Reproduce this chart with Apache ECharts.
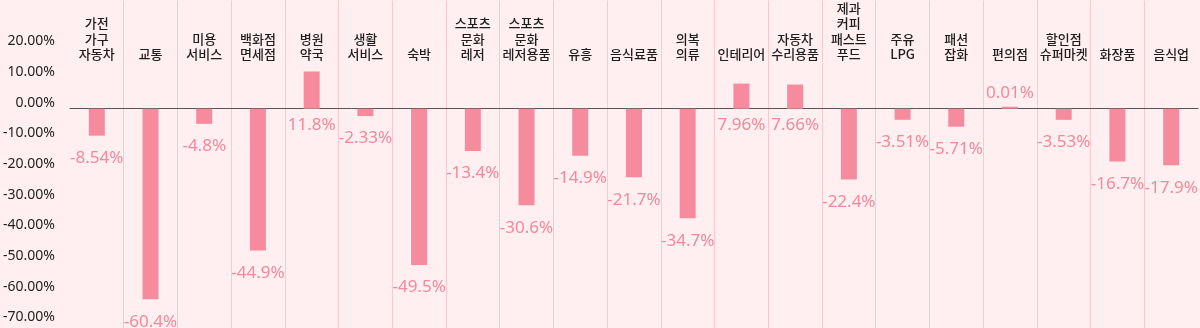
<!DOCTYPE html>
<html>
<head>
<meta charset="utf-8">
<script src="https://cdn.jsdelivr.net/npm/echarts@6/dist/echarts.min.js"></script>
<style>
  html, body { margin: 0; padding: 0; background: #FFEFF1; }
  #chart { width: 1200px; height: 328px; }
</style>
</head>
<body>
<div id="chart"></div>
<script>
// 업종별 증감률 (%)
const categories = [
  '가전\n가구\n자동차', '교통', '미용\n서비스', '백화점\n면세점', '병원\n약국',
  '생활\n서비스', '숙박', '스포츠\n문화\n레저', '스포츠\n문화\n레저용품', '유흥',
  '음식료품', '의복\n의류', '인테리어', '자동차\n수리용품', '제과\n커피\n패스트\n푸드',
  '주유\nLPG', '패션\n잡화', '편의점', '할인점\n슈퍼마켓', '화장품', '음식업'
];
const changeRates = [
  -8.54, -60.4, -4.8, -44.9, 11.8,
  -2.33, -49.5, -13.4, -30.6, -14.9,
  -21.7, -34.7, 7.96, 7.66, -22.4,
  -3.51, -5.71, 0.01, -3.53, -16.7, -17.9
];
const yTickLabels = [20, 10, 0, -10, -20, -30, -40, -50, -60, -70];

const BAR_COLOR = '#F58B9D';
const LABEL_COLOR = '#F4899B';

function labelFor(v) {
  if (v < 0) return { position: 'bottom', distance: 13 };
  if (v < 1) return { position: 'top', distance: 4 };
  // positive values: label sits just under the zero line
  return { position: 'insideBottom', distance: 5, offset: [0, 31] };
}

const chart = echarts.init(document.getElementById('chart'), null, { renderer: 'canvas' });

chart.setOption({
  backgroundColor: '#FFEFF1',
  animation: false,
  grid: { left: 69, right: 2, top: 0, bottom: 0 },
  xAxis: [
    {
      type: 'category',
      data: categories,
      position: 'bottom',
      axisLine: { onZero: true, lineStyle: { color: '#555555', width: 1 } },
      axisTick: { show: false, interval: 0 },
      axisLabel: { show: false, interval: 0 },
      splitLine: {
        show: true,
        interval: 0,
        showMinLine: false,
        showMaxLine: false,
        lineStyle: { color: '#F9C9D0', width: 1 }
      }
    },
    {
      type: 'category',
      data: categories,
      position: 'top',
      axisLine: { show: false },
      axisTick: { show: false },
      splitLine: { show: false },
      axisLabel: {
        inside: true,
        interval: 0,
        margin: 61.5,
        verticalAlign: 'bottom',
        lineHeight: 15.5,
        fontSize: 13,
        fontWeight: 500,
        fontFamily: '"Noto Sans CJK KR", "Noto Sans", sans-serif',
        color: '#1E1E1E'
      }
    }
  ],
  yAxis: [
    {
      type: 'value',
      min: -69.5,
      max: 34.3,
      axisLine: { show: false },
      axisTick: { show: false },
      axisLabel: { show: false },
      splitLine: { show: false }
    },
    {
      // tick label column on the left
      type: 'value',
      position: 'left',
      min: -73.44,
      max: 33.33,
      axisLine: { show: false },
      axisTick: { show: false },
      splitLine: { show: false },
      axisLabel: {
        customValues: yTickLabels,
        margin: 15,
        fontSize: 14,
        fontFamily: '"Noto Sans", sans-serif',
        color: '#222222',
        formatter: v => v.toFixed(2) + '%'
      }
    }
  ],
  series: [
    {
      type: 'bar',
      xAxisIndex: 0,
      yAxisIndex: 0,
      barWidth: 16,
      barMinHeight: 2,
      itemStyle: { color: BAR_COLOR },
      label: {
        show: true,
        color: LABEL_COLOR,
        fontSize: 17,
        lineHeight: 19,
        fontFamily: '"Noto Sans", sans-serif',
        formatter: p => p.value + '%'
      },
      data: changeRates.map(v => ({ value: v, label: labelFor(v) }))
    }
  ]
});
</script>
</body>
</html>
